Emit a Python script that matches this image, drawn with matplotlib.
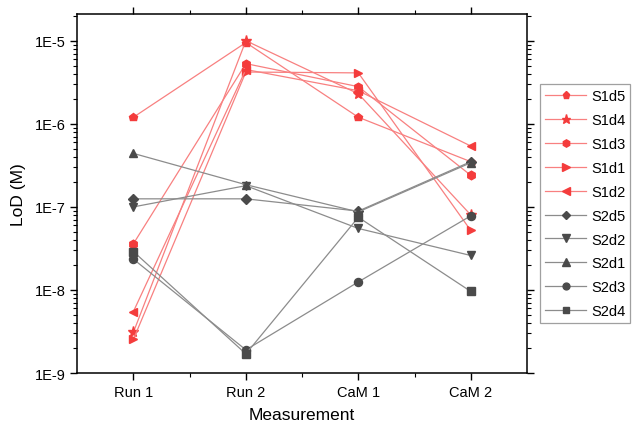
import matplotlib
matplotlib.use("Agg")
import matplotlib.pyplot as plt
from matplotlib.ticker import FixedLocator, LogLocator, FuncFormatter, NullFormatter
import numpy as np

plt.rcParams['font.family'] = ['Liberation Sans', 'DejaVu Sans']

categories = ["Run 1", "Run 2", "CaM 1", "CaM 2"]

S1d5 = [1.2e-6, 9.5e-6, 1.2e-6, 3.5e-7]
S1d4 = [3.1e-9, 1.0e-5, 2.3e-6, 8.0e-8]
S1d3 = [3.6e-8, 5.3e-6, 2.8e-6, 2.4e-7]
S1d1 = [2.55e-9, 4.2e-6, 4.1e-6, 5.2e-8]
S1d2 = [5.5e-9, 4.5e-6, 2.5e-6, 5.4e-7]
S2d5 = [1.25e-7, 1.25e-7, 8.9e-8, 3.5e-7]
S2d2 = [1.0e-7, 1.8e-7, 5.5e-8, 2.6e-8]
S2d1 = [4.4e-7, 1.85e-7, 8.7e-8, 3.4e-7]
S2d3 = [2.35e-8, 1.9e-9, 1.25e-8, 7.8e-8]
S2d4 = [2.9e-8, 1.7e-9, 7.5e-8, 9.6e-9]

series = [
    ("S1d5", S1d5, "p", 6.2, "red"),
    ("S1d4", S1d4, "*", 8, "red"),
    ("S1d3", S1d3, "h", 6.2, "red"),
    ("S1d1", S1d1, ">", 6.2, "red"),
    ("S1d2", S1d2, "<", 6.2, "red"),
    ("S2d5", S2d5, "D", 5, "gray"),
    ("S2d2", S2d2, "v", 6.2, "gray"),
    ("S2d1", S2d1, "^", 6.2, "gray"),
    ("S2d3", S2d3, "o", 5.8, "gray"),
    ("S2d4", S2d4, "s", 5.3, "gray"),
]

red_m = "#F43C3C"
red_l = "#F88080"
gray_m = "#4A4A4A"
gray_l = "#8C8C8C"

fig = plt.figure(figsize=(6.38, 4.27), dpi=100)
ax = fig.add_axes([0.121, 0.124, 0.705, 0.841])

x = np.arange(1, len(categories) + 1)
handles = []
for name, vals, mk, ms, col in series:
    mc = red_m if col == "red" else gray_m
    lc = red_l if col == "red" else gray_l
    h, = ax.plot(x, vals, color=lc, lw=0.9, marker=mk, markersize=ms,
                 markerfacecolor=mc, markeredgecolor=mc, label=name)
    handles.append(h)

ax.set_yscale("log")
ax.set_ylim(1e-9, 2.1e-5)
ax.set_xlim(0.5, 4.5)

ax.set_xticks(x)
ax.set_xticklabels(categories)
ax.xaxis.set_minor_locator(FixedLocator([1.5, 2.5, 3.5]))

ax.yaxis.set_major_locator(FixedLocator([1e-9, 1e-8, 1e-7, 1e-6, 1e-5]))
ax.yaxis.set_major_formatter(FuncFormatter(lambda v, p: "1E%d" % int(round(np.log10(v)))))
ax.yaxis.set_minor_locator(LogLocator(base=10, subs=np.arange(2, 10)))
ax.yaxis.set_minor_formatter(NullFormatter())

ax.tick_params(which="both", direction="out", top=True, right=True,
               labeltop=False, labelright=False, labelsize=10.5, colors="black")
ax.tick_params(which="major", length=5, width=1)
ax.tick_params(which="minor", length=3, width=0.8)
for s in ax.spines.values():
    s.set_linewidth(1.1)
    s.set_color("black")

ax.set_xlabel("Measurement", fontsize=12.5, labelpad=6)
ax.set_ylabel("LoD (M)", fontsize=12.5, labelpad=6)

leg = ax.legend(handles=handles, loc="upper left", bbox_to_anchor=(1.029, 0.805),
                fontsize=10.5, frameon=True, fancybox=False, edgecolor="#888888",
                handlelength=2.8, handletextpad=0.35, labelspacing=0.68,
                borderpad=0.35, borderaxespad=0, markerscale=0.85)
leg.get_frame().set_linewidth(0.9)

fig.savefig("out.png", dpi=100)
